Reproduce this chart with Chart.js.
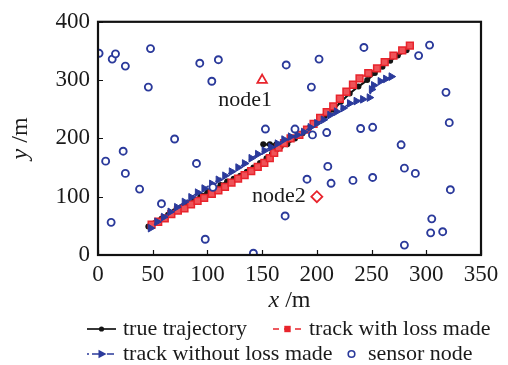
<!DOCTYPE html>
<html>
<head>
<meta charset="utf-8">
<script src="https://cdn.jsdelivr.net/npm/chart.js@4.4.1/dist/chart.umd.min.js"></script>
<style>
  html, body { margin: 0; padding: 0; background: #fff; }
  #wrap { width: 508px; height: 365px; }
</style>
</head>
<body>
<div id="wrap"><canvas id="plot"></canvas></div>
<script>
// ---- data (x in m, y in m) ----
var trueTrack = [
  [46,49],[52,55],[58,62],[64,69],[70,75],[76,82],[82,89],[88,95],[94,102],[100,108],
  [106,114],[112,120],[118,126],[124,131],[130,136],[136,143],[142,150],[148,158],
  [154,166],[159,174],[163,181],[167,186],[151,190],[157,190],[163,190],[168,190],
  [173,190],[180,200],[187,209],[193,218],[200,227],[207,238],[215,249],[222,263],
  [230,277],[238,289],[246,300],[253,312],[260,323],[267,333],[274,342],[282,351]
];
var lossTrack = [
  [49,52],[55,57],[61,63],[67,70],[73,76],[79,80],[85,87],[91,93],[97,98],[104,105],
  [110,111],[116,117],[122,124],[128,131],[134,137],[140,144],[146,151],[152,158],
  [157,166],[161,175],[165,184],[170,192],[176,200],[184,206],[191,215],[197,225],
  [203,235],[209,245],[215,255],[221,268],[227,280],[233,292],[239,303],[247,312],
  [255,320],[262,331],[270,342],[278,351],[285,359]
];
var noLossTrack = [
  [48,46],[54,57],[60,65],[66,74],[72,82],[79,91],[85,99],[91,107],[97,114],[104,122],
  [110,129],[116,136],[122,143],[128,150],[134,157],[140,166],[146,173],[152,179],
  [158,185],[164,191],[170,198],[176,203],[182,206],[188,211],[194,219],[200,226],
  [206,232],[212,240],[218,246],[224,252],[230,260],[236,264],[242,267],[248,270],
  [250,284],[252,291],[258,298],[263,302],[268,306]
];
var sensorNodes = [
  [1,346],[13,336],[16,345],[25,324],[48,354],[46,288],[93,329],[110,335],[104,298],
  [172,326],[153,216],[70,199],[202,336],[243,356],[195,288],[303,360],[293,342],
  [318,279],[321,227],[180,216],[240,217],[251,219],[209,210],[196,206],[7,161],
  [23,178],[25,140],[38,113],[12,56],[58,88],[90,157],[105,116],[98,27],[142,3],
  [171,67],[277,189],[210,152],[191,130],[213,123],[233,128],[251,133],[280,149],
  [290,140],[322,112],[305,62],[304,38],[315,40],[280,17]
];
var anchorNodes = [[150,300],[200,100]];
var anchorNames = ['node1', 'node2'];

var xTicks = { min: 0, max: 350, step: 50 };
var yTicks = { min: 0, max: 400, step: 100 };

var BLACK = '#141414', RED = '#e8242c', BLUE = '#2b3a9b';
var SERIF = '"Liberation Serif", "DejaVu Serif", serif';

function toPts(arr) { return arr.map(function (p) { return { x: p[0], y: p[1] }; }); }

// small marker painter for the legend
function marker(ctx, kind, x, y, color) {
  ctx.save();
  ctx.strokeStyle = color; ctx.fillStyle = color; ctx.lineWidth = 1.6;
  ctx.beginPath();
  if (kind === 'dot') { ctx.arc(x, y, 2.6, 0, Math.PI * 2); ctx.fill(); }
  else if (kind === 'square') { ctx.rect(x - 3.2, y - 3.2, 6.4, 6.4); ctx.fill(); }
  else if (kind === 'tri') { ctx.moveTo(x + 5, y); ctx.lineTo(x - 3, y - 4.3); ctx.lineTo(x - 3, y + 4.3); ctx.closePath(); ctx.fill(); }
  else if (kind === 'ring') { ctx.fillStyle = '#fff'; ctx.arc(x, y, 3.3, 0, Math.PI * 2); ctx.fill(); ctx.stroke(); }
  ctx.restore();
}

var legendItems = [
  { text: 'true trajectory', color: BLACK, dash: [], kind: 'dot', x: 87, y: 329 },
  { text: 'track with loss made', color: RED, dash: [6, 5], kind: 'square', x: 273, y: 329 },
  { text: 'track without loss made', color: BLUE, dash: [2, 3, 7, 3], kind: 'tri', x: 87, y: 354 },
  { text: 'sensor node', color: BLUE, dash: null, kind: 'ring', x: 337, y: 354 }
];

var decor = {
  id: 'decor',
  afterDatasetsDraw: function (chart) {
    var ctx = chart.ctx, a = chart.chartArea;
    var xs = chart.scales.x, ys = chart.scales.y;
    ctx.save();
    ctx.strokeStyle = '#111';
    ctx.lineWidth = 1.2;
    // inward ticks
    ctx.beginPath();
    xs.ticks.forEach(function (t) {
      var px = Math.round(xs.getPixelForValue(t.value)) + 0.5;
      ctx.moveTo(px, a.bottom); ctx.lineTo(px, a.bottom - 5);
    });
    ys.ticks.forEach(function (t) {
      var py = Math.round(ys.getPixelForValue(t.value)) + 0.5;
      ctx.moveTo(a.left, py); ctx.lineTo(a.left + 5, py);
    });
    ctx.stroke();
    // frame
    ctx.lineWidth = 2.2;
    ctx.strokeRect(a.left, a.top, a.right - a.left, a.bottom - a.top);

    // anchor node labels
    ctx.fillStyle = '#1a1a1a';
    ctx.font = '22px ' + SERIF;
    ctx.textBaseline = 'middle';
    var p1x = xs.getPixelForValue(anchorNodes[0][0]), p1y = ys.getPixelForValue(anchorNodes[0][1]);
    ctx.textAlign = 'center';
    ctx.fillText(anchorNames[0], p1x - 17, p1y + 20);
    var p2x = xs.getPixelForValue(anchorNodes[1][0]), p2y = ys.getPixelForValue(anchorNodes[1][1]);
    ctx.textAlign = 'right';
    ctx.fillText(anchorNames[1], p2x - 11, p2y);
    ctx.restore();
  },
  afterDraw: function (chart) {
    var ctx = chart.ctx, a = chart.chartArea;
    ctx.save();
    ctx.fillStyle = '#1a1a1a';
    ctx.textBaseline = 'middle';
    // x title
    var cx = (a.left + a.right) / 2;
    ctx.font = 'italic 24px ' + SERIF;
    var w1 = ctx.measureText('x').width;
    ctx.font = '24px ' + SERIF;
    var w2 = ctx.measureText(' /m').width;
    var sx = cx - (w1 + w2) / 2;
    ctx.textAlign = 'left';
    ctx.font = 'italic 24px ' + SERIF; ctx.fillText('x', sx, 301);
    ctx.font = '24px ' + SERIF; ctx.fillText(' /m', sx + w1, 301);
    // y title
    ctx.translate(21, (a.top + a.bottom) / 2);
    ctx.rotate(-Math.PI / 2);
    ctx.font = 'italic 24px ' + SERIF;
    w1 = ctx.measureText('y').width;
    ctx.font = '24px ' + SERIF;
    w2 = ctx.measureText(' /m').width;
    sx = -(w1 + w2) / 2;
    ctx.font = 'italic 24px ' + SERIF; ctx.fillText('y', sx, 0);
    ctx.font = '24px ' + SERIF; ctx.fillText(' /m', sx + w1, 0);
    ctx.restore();

    // legend
    ctx.save();
    ctx.font = '22px ' + SERIF;
    ctx.textBaseline = 'middle';
    ctx.textAlign = 'left';
    legendItems.forEach(function (it) {
      if (it.dash) {
        ctx.strokeStyle = it.color; ctx.lineWidth = 1.7; ctx.setLineDash(it.dash);
        ctx.beginPath(); ctx.moveTo(it.x, it.y); ctx.lineTo(it.x + 29, it.y); ctx.stroke();
        ctx.setLineDash([]);
      }
      marker(ctx, it.kind, it.x + 14.5, it.y, it.color);
      ctx.fillStyle = '#1a1a1a';
      ctx.fillText(it.text, it.x + (it.kind === 'ring' ? 31 : 36), it.y);
    });
    ctx.restore();
  }
};

var ctx = document.getElementById('plot').getContext('2d');
var chart = new Chart(ctx, {
  type: 'scatter',
  data: {
    datasets: [
      {
        label: 'sensor node', data: toPts(sensorNodes), order: 0,
        pointStyle: 'circle', pointRadius: 3.5, pointBorderWidth: 1.9,
        pointBackgroundColor: '#fff', pointBorderColor: BLUE
      },
      {
        label: 'anchor nodes', data: toPts(anchorNodes), order: 0,
        pointStyle: ['triangle', 'rectRot'], pointRadius: 5.5, pointBorderWidth: 1.8,
        pointBackgroundColor: '#fff', pointBorderColor: RED
      },
      {
        label: 'track without loss made', data: toPts(noLossTrack), order: 1,
        showLine: true, borderColor: BLUE, borderWidth: 1.4, borderDash: [2, 3, 7, 3],
        pointStyle: 'triangle', rotation: 90, pointRadius: 4.4,
        pointBackgroundColor: BLUE, pointBorderColor: BLUE, pointBorderWidth: 1
      },
      {
        label: 'track with loss made', data: toPts(lossTrack), order: 2,
        showLine: true, borderColor: RED, borderWidth: 1.4, borderDash: [5, 4],
        pointStyle: 'rect', pointRadius: 4.8,
        pointBackgroundColor: '#ef5258', pointBorderColor: RED, pointBorderWidth: 1.5
      },
      {
        label: 'true trajectory', data: toPts(trueTrack), order: 3,
        showLine: true, borderColor: BLACK, borderWidth: 2.2,
        pointStyle: 'circle', pointRadius: 3,
        pointBackgroundColor: BLACK, pointBorderColor: BLACK, pointBorderWidth: 0
      }
    ]
  },
  options: {
    responsive: true,
    maintainAspectRatio: false,
    animation: false,
    events: [],
    layout: { padding: { left: 0, top: 19, right: 27, bottom: 55 } },
    plugins: { legend: { display: false }, tooltip: { enabled: false } },
    scales: {
      x: {
        type: 'linear', min: xTicks.min, max: xTicks.max,
        ticks: { stepSize: xTicks.step, color: '#1a1a1a', padding: 6, maxRotation: 0,
                 font: { family: SERIF, size: 23 } },
        grid: { display: false, drawTicks: false },
        border: { display: false },
        afterFit: function (s) { s.height = 55; }
      },
      y: {
        type: 'linear', min: yTicks.min, max: yTicks.max,
        ticks: { stepSize: yTicks.step, color: '#1a1a1a', padding: 8,
                 font: { family: SERIF, size: 23 } },
        grid: { display: false, drawTicks: false },
        border: { display: false },
        afterFit: function (s) { s.width = 98; }
      }
    }
  },
  plugins: [decor]
});
</script>
</body>
</html>
